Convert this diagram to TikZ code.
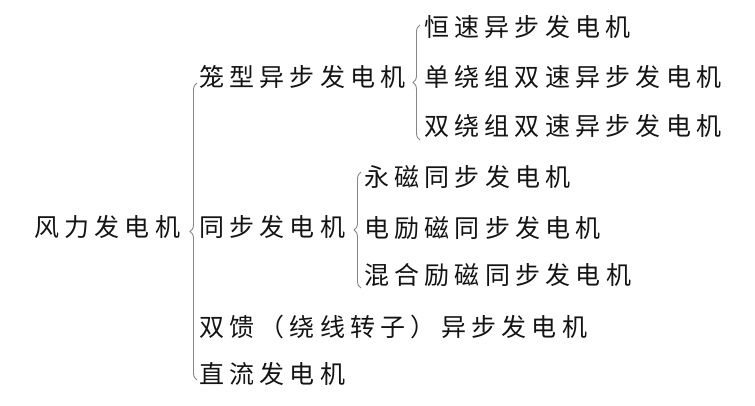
\documentclass[tikz,border=0pt]{standalone}
\usepackage{fontspec}
\setmainfont{Noto Sans CJK SC}[LetterSpace=21]
\usepackage{tikz}
\usetikzlibrary{decorations.pathreplacing}
\definecolor{bracegray}{RGB}{135,135,135}
\definecolor{ink}{RGB}{20,20,20}

\begin{document}
\begin{tikzpicture}[x=1pt,y=-1pt,font=\fontsize{25}{29}\selectfont]
		\tikzset{item/.style={anchor=west, inner sep=0pt, text=ink},
			brc/.style={draw=bracegray, line width=0.9pt, decorate, decoration={brace, amplitude=7pt}}}
		\useasboundingbox (0,0) rectangle (755,406);
		% root and first level
		\node [item] (root) at (34,227) {风力发电机};
		\node [item] (lx) at (199,77) {笼型异步发电机};
		\node [item] (tb) at (199,227) {同步发电机};
		\node [item] (sk) at (199,327) {双馈（绕线转子）异步发电机};
		\node [item] (zl) at (199,374) {直流发电机};
		% second level
		\node [item] (hs) at (424,27) {恒速异步发电机};
		\node [item] (dr) at (424,77) {单绕组双速异步发电机};
		\node [item] (sr) at (424,126) {双绕组双速异步发电机};
		\node [item] (ym) at (364,177) {永磁同步发电机};
		\node [item] (dl) at (364,228) {电励磁同步发电机};
		\node [item] (hh) at (364,275) {混合励磁同步发电机};
		% braces
		\coordinate (b1t) at (197,83);
		\coordinate (b1b) at (197,380);
		\coordinate (b2t) at (420,25);
		\coordinate (b2b) at (420,140);
		\coordinate (b3t) at (361,172);
		\coordinate (b3b) at (361,288);
		\draw [brc] (b1b) -- (b1t);
		\draw [brc] (b2b) -- (b2t);
		\draw [brc] (b3b) -- (b3t);
	\end{tikzpicture}
\end{document}
